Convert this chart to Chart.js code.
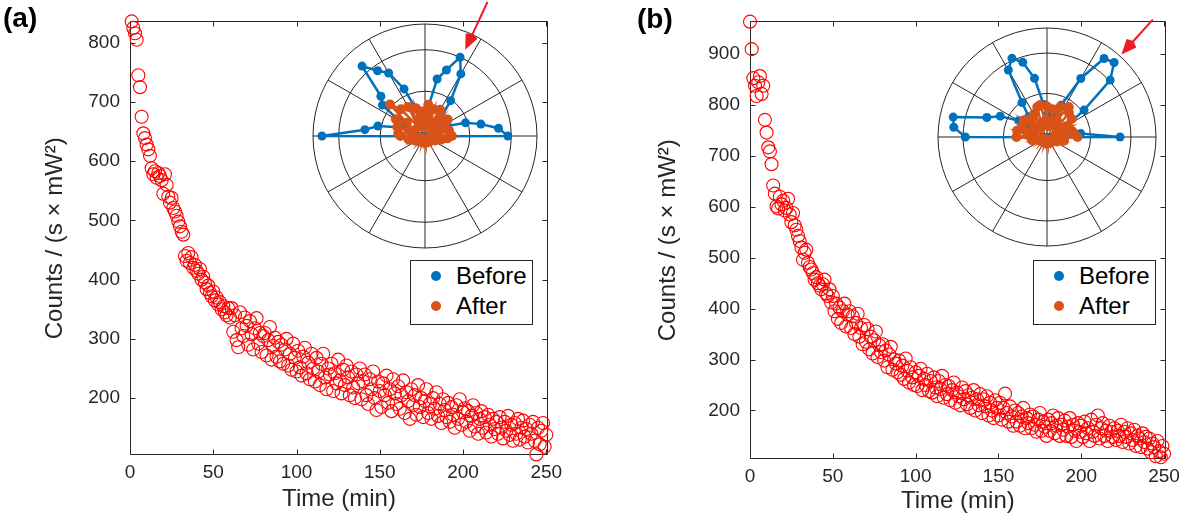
<!DOCTYPE html>
<html>
<head>
<meta charset="utf-8">
<script src="https://cdn.jsdelivr.net/npm/chart.js@4.4.1/dist/chart.umd.min.js"></script>
<style>
  body { margin: 0; background: #fff; width: 1186px; height: 521px; position: relative; overflow: hidden;
         font-family: "Liberation Sans", Arial, sans-serif; }
  canvas { position: absolute; }
  .tag { position: absolute; font-weight: bold; font-size: 28px; line-height: 1; color: #000; }
  .legend { position: absolute; width: 123px; height: 65px; box-sizing: border-box;
            border: 1px solid #262626; background: #fff; z-index: 5; }
  .legend .row { position: absolute; left: 0; height: 30px; line-height: 30px; font-size: 24px; color: #000; }
  .legend .row span { position: absolute; left: 20px; top: 10px; width: 10px; height: 10px; border-radius: 50%; }
  .legend .row b { position: absolute; left: 45px; font-weight: normal; white-space: nowrap; }
</style>
</head>
<body>
<canvas id="decayA" width="590" height="521" style="left:0;top:0"></canvas>
<canvas id="decayB" width="566" height="521" style="left:620px;top:0"></canvas>
<canvas id="polarA" width="300" height="300" style="left:275px;top:-14px"></canvas>
<canvas id="polarB" width="300" height="300" style="left:897px;top:-13px"></canvas>

<div class="tag" style="left:3px;top:4px">(a)</div>
<div class="tag" style="left:637px;top:5px">(b)</div>

<div class="legend" style="left:410px;top:260px">
  <div class="row" style="top:0"><span style="background:#0072BD"></span><b>Before</b></div>
  <div class="row" style="top:30px"><span style="background:#D95319"></span><b>After</b></div>
</div>
<div class="legend" style="left:1033px;top:260px">
  <div class="row" style="top:0"><span style="background:#0072BD"></span><b>Before</b></div>
  <div class="row" style="top:30px"><span style="background:#D95319"></span><b>After</b></div>
</div>

<script>
// counts per minute, panel (a) starts at 1 min, panel (b) at 0 min
const startA = 1;
const countsA = [
  836, 825, 816, 805, 745, 725, 675, 647, 639, 628,
  620, 609, 588, 578, 583, 572, 580, 575, 568, 545,
  578, 560, 540, 530, 538, 521, 515, 508, 498, 490,
  481, 476, 440, 432, 445, 428, 438, 420, 425, 415,
  410, 418, 400, 405, 395, 384, 390, 378, 372, 380,
  365, 370, 358, 362, 350, 355, 345, 340, 352, 336,
  352, 312, 340, 298, 286, 345, 318, 305, 336, 322,
  290, 330, 308, 282, 318, 335, 292, 310, 278, 305,
  310, 272, 298, 320, 265, 288, 302, 270, 295, 262,
  290, 258, 282, 300, 255, 275, 248, 292, 268, 245,
  280, 252, 238, 270, 285, 242, 260, 232, 275, 250,
  228, 268, 245, 222, 258, 275, 235, 215, 250, 240,
  258, 212, 242, 225, 265, 230, 208, 248, 222, 255,
  235, 205, 245, 218, 200, 240, 225, 250, 198, 228,
  240, 205, 190, 232, 215, 245, 200, 180, 228, 212,
  185, 225, 205, 238, 192, 215, 178, 232, 208, 190,
  220, 182, 205, 230, 175, 210, 195, 165, 215, 188,
  205, 172, 222, 185, 200, 168, 195, 215, 175, 190,
  165, 200, 182, 210, 170, 190, 158, 198, 180, 168,
  192, 160, 185, 172, 150, 188, 165, 198, 155, 176,
  183, 160, 178, 145, 170, 188, 152, 175, 140, 165,
  178, 150, 168, 142, 172, 155, 135, 165, 148, 160,
  140, 168, 150, 132, 160, 145, 170, 138, 155, 128,
  158, 140, 165, 130, 150, 162, 135, 148, 125, 155,
  140, 160, 128, 105, 150, 122, 145, 158, 118, 138,
];

const startB = 0;
const countsB = [
  964, 910, 853, 838, 818, 845, 857, 822, 838, 771,
  746, 717, 709, 684, 642, 626, 601, 597, 620, 605,
  612, 593, 598, 616, 585, 570, 588, 564, 555, 543,
  533, 520, 496, 510, 516, 490, 482, 477, 470, 457,
  462, 450, 445, 438, 448, 457, 430, 425, 438, 412,
  425, 395, 410, 380, 402, 372, 395, 410, 365, 388,
  395, 362, 385, 350, 372, 390, 345, 362, 330, 368,
  335, 360, 320, 345, 312, 338, 355, 305, 328, 315,
  330, 298, 318, 285, 310, 325, 280, 300, 292, 275,
  298, 270, 288, 262, 302, 278, 255, 285, 265, 250,
  275, 248, 268, 282, 240, 262, 250, 272, 238, 258,
  235, 265, 245, 228, 258, 242, 268, 225, 250, 232,
  248, 220, 240, 255, 215, 235, 228, 210, 245, 222,
  238, 212, 230, 205, 225, 240, 200, 222, 210, 232,
  195, 222, 208, 228, 190, 215, 200, 185, 220, 205,
  190, 215, 182, 205, 233, 195, 178, 208, 188, 170,
  200, 178, 195, 170, 188, 205, 165, 185, 175, 192,
  165, 188, 172, 158, 182, 195, 160, 178, 168, 150,
  182, 160, 175, 190, 155, 170, 185, 150, 172, 162,
  180, 150, 168, 185, 148, 172, 160, 140, 175, 158,
  170, 148, 178, 155, 165, 140, 182, 158, 150, 172,
  190, 145, 165, 175, 150, 160, 140, 170, 158, 148,
  165, 142, 160, 150, 172, 138, 158, 148, 165, 135,
  155, 142, 162, 130, 150, 145, 128, 155, 138, 148,
  125, 145, 118, 135, 128, 110, 140, 120, 108, 130, 115,
];

const timeTicks = [0, 50, 100, 150, 200, 250];
const countTicksA = [200, 300, 400, 500, 600, 700, 800];
const countTicksB = [200, 300, 400, 500, 600, 700, 800, 900];

// polar insets: normalised intensity vs angle (deg, counter-clockwise from east)
const polarAngles = [
  0, 6, 12, 18, 24, 30, 36, 42, 48, 54, 60, 66, 72, 78, 84, 90, 96, 102, 108, 114,
  120, 126, 132, 138, 144, 150, 156, 162, 168, 174, 180, 186, 192, 198, 204, 210, 216, 222, 228, 234,
  240, 246, 252, 258, 264, 270, 276, 282, 288, 294, 300, 306, 312, 318, 324, 330, 336, 342, 348, 354,
];
const ringValues = [0, 0.4, 0.77, 1];

const beforeA = [
  0.74, 0.66, 0.51, 0.38, 0.22, 0.15, 0.12, 0.14, 0.20, 0.39,
  0.64, 0.77, 0.62, 0.52, 0.25, 0.15, 0.10, 0.14, 0.25, 0.46,
  0.65, 0.72, 0.84, 0.53, 0.47, 0.25, 0.18, 0.25, 0.43, 0.54,
  0.92, 0.03, 0.02, 0.02, 0.02, 0.02, 0.02, 0.02, 0.02, 0.02,
  0.02, 0.02, 0.02, 0.02, 0.02, 0.02, 0.02, 0.02, 0.02, 0.02,
  0.02, 0.02, 0.02, 0.02, 0.02, 0.02, 0.02, 0.02, 0.02, 0.03,
];
const afterA = [
  0.24, 0.10, 0.22, 0.06, 0.20, 0.12, 0.25, 0.08, 0.22, 0.14,
  0.27, 0.10, 0.25, 0.16, 0.28, 0.08, 0.22, 0.12, 0.26, 0.15,
  0.30, 0.10, 0.32, 0.42, 0.20, 0.30, 0.12, 0.26, 0.10, 0.24,
  0.22, 0.08, 0.15, 0.06, 0.10, 0.04, 0.08, 0.03, 0.06, 0.03,
  0.05, 0.03, 0.06, 0.03, 0.05, 0.03, 0.06, 0.03, 0.05, 0.03,
  0.06, 0.03, 0.05, 0.04, 0.07, 0.05, 0.10, 0.06, 0.15, 0.20,
];
const beforeB = [
  0.67, 0.31, 0.20, 0.15, 0.14, 0.20, 0.42, 0.78, 0.92, 0.89,
  0.62, 0.32, 0.20, 0.15, 0.14, 0.20, 0.30, 0.55, 0.72, 0.79,
  0.71, 0.39, 0.25, 0.20, 0.22, 0.30, 0.47, 0.58, 0.88, 0.86,
  0.75, 0.03, 0.02, 0.02, 0.02, 0.02, 0.02, 0.02, 0.02, 0.02,
  0.02, 0.02, 0.02, 0.02, 0.02, 0.02, 0.02, 0.02, 0.02, 0.02,
  0.02, 0.02, 0.02, 0.02, 0.02, 0.02, 0.02, 0.02, 0.02, 0.03,
];
const afterB = [
  0.28, 0.12, 0.24, 0.08, 0.22, 0.14, 0.28, 0.12, 0.30, 0.34,
  0.18, 0.30, 0.12, 0.26, 0.10, 0.28, 0.15, 0.30, 0.29, 0.12,
  0.24, 0.10, 0.22, 0.14, 0.26, 0.12, 0.25, 0.15, 0.28, 0.18,
  0.28, 0.10, 0.14, 0.05, 0.08, 0.03, 0.06, 0.03, 0.06, 0.03,
  0.05, 0.03, 0.06, 0.03, 0.05, 0.03, 0.06, 0.03, 0.05, 0.03,
  0.06, 0.03, 0.05, 0.04, 0.06, 0.05, 0.10, 0.08, 0.16, 0.12,
];

const axisColor = '#262626';
const fontFamily = '"Liberation Sans", Arial, sans-serif';
Chart.defaults.font.family = fontFamily;

// matlab style box: full frame with inward ticks on all four sides
const frameBox = {
    id: 'frameBox',
    beforeDatasetsDraw(chart) {
        const { ctx, chartArea: a, scales: { x, y } } = chart;
        const len = 5;
        const L = Math.round(a.left) + .5, R = Math.round(a.right) - .5;
        const T = Math.round(a.top) + .5, B = Math.round(a.bottom) - .5;
        ctx.save();
        ctx.strokeStyle = axisColor;
        ctx.lineWidth = 1;
        ctx.beginPath();
        ctx.rect(L, T, R - L, B - T);
        x.ticks.forEach((t) => {
            const px = Math.round(x.getPixelForValue(t.value)) + .5;
            ctx.moveTo(px, B); ctx.lineTo(px, B - len);
            ctx.moveTo(px, T); ctx.lineTo(px, T + len);
        });
        y.ticks.forEach((t) => {
            const py = Math.round(y.getPixelForValue(t.value)) + .5;
            ctx.moveTo(L, py); ctx.lineTo(L + len, py);
            ctx.moveTo(R, py); ctx.lineTo(R - len, py);
        });
        ctx.stroke();
        ctx.restore();
    },
};

const radialArrow = {
    id: 'radialArrow',
    afterDraw(chart, _args, opts) {
        if (!opts || opts.angle == null) return;
        const { ctx } = chart;
        const r = chart.scales.r;
        const a = opts.angle * Math.PI / 180;
        const ux = Math.cos(a), uy = -Math.sin(a);
        const at = (f) => ({ x: r.xCenter + ux * f * r.drawingArea, y: r.yCenter + uy * f * r.drawingArea });
        const tail = at(opts.from), tip = at(opts.to);
        const head = 15, half = 6.5;
        const base = { x: tip.x + ux * head, y: tip.y + uy * head };
        ctx.save();
        ctx.strokeStyle = opts.color;
        ctx.fillStyle = opts.color;
        ctx.lineWidth = 2;
        ctx.beginPath();
        ctx.moveTo(tail.x, tail.y);
        ctx.lineTo(base.x, base.y);
        ctx.stroke();
        ctx.beginPath();
        ctx.moveTo(tip.x, tip.y);
        ctx.lineTo(base.x - uy * half, base.y + ux * half);
        ctx.lineTo(base.x + ux * 3, base.y + uy * 3);
        ctx.lineTo(base.x + uy * half, base.y - ux * half);
        ctx.closePath();
        ctx.fill();
        ctx.restore();
    },
};

function drawDecay(id, start, counts, yMin, yMax, yTicks, box) {
    const tickFont = { size: 19 };
    new Chart(document.getElementById(id), {
        type: 'scatter',
        data: {
            datasets: [{
                data: counts.map((c, i) => ({ x: start + i, y: c })),
                pointStyle: 'circle',
                pointRadius: 6.5,
                borderWidth: 1.1,
                borderColor: '#ff0000',
                backgroundColor: 'rgba(0,0,0,0)',
                clip: false,
            }],
        },
        plugins: [frameBox],
        options: {
            responsive: false,
            animation: false,
            events: [],
            layout: { padding: box.pad },
            plugins: { legend: { display: false }, tooltip: { enabled: false } },
            scales: {
                x: {
                    type: 'linear',
                    min: 0,
                    max: 251,
                    afterBuildTicks: (s) => { s.ticks = timeTicks.map((v) => ({ value: v })); },
                    afterFit: (s) => { s.height = box.xHeight; },
                    grid: { display: false, drawTicks: false },
                    border: { display: false },
                    ticks: { color: axisColor, font: tickFont, padding: 6, maxRotation: 0, autoSkip: false },
                    title: { display: true, text: 'Time (min)', color: axisColor, font: { size: 24 }, padding: 0 },
                },
                y: {
                    min: yMin,
                    max: yMax,
                    afterBuildTicks: (s) => { s.ticks = yTicks.map((v) => ({ value: v })); },
                    afterFit: (s) => { s.width = box.yWidth; },
                    grid: { display: false, drawTicks: false },
                    border: { display: false },
                    ticks: { color: axisColor, font: tickFont, padding: 10, autoSkip: false },
                    title: { display: true, text: 'Counts / (s × mW²)', color: axisColor, font: { size: 24 }, padding: 0 },
                },
            },
        },
    });
}

// radar runs clockwise from startAngle; reorder so the angles run counter-clockwise from east
const toRadar = (vals) => vals.map((_, i) => vals[(vals.length - i) % vals.length]);

function drawPolar(id, before, after, pad, arrow) {
    new Chart(document.getElementById(id), {
        type: 'radar',
        data: {
            labels: toRadar(polarAngles).map(String),
            datasets: [
                {
                    label: 'After',
                    data: toRadar(after),
                    borderColor: '#D95319',
                    backgroundColor: '#D95319',
                    pointBackgroundColor: '#D95319',
                    pointRadius: 5,
                    order: 0,
                },
                {
                    label: 'Before',
                    data: toRadar(before),
                    borderColor: '#0072BD',
                    backgroundColor: '#0072BD',
                    pointBackgroundColor: '#0072BD',
                    order: 1,
                },
            ],
        },
        plugins: [radialArrow],
        options: {
            responsive: false,
            animation: false,
            events: [],
            layout: { padding: pad },
            elements: {
                line: { tension: 0, borderWidth: 2.5, fill: false },
                point: { radius: 4.5, borderWidth: 0, hoverRadius: 4.5 },
            },
            plugins: {
                legend: { display: false },
                tooltip: { enabled: false },
                radialArrow: arrow,
            },
            scales: {
                r: {
                    min: 0,
                    max: 1,
                    startAngle: 90,
                    afterBuildTicks: (s) => { s.ticks = ringValues.map((v) => ({ value: v })); },
                    ticks: { display: false },
                    pointLabels: { display: false },
                    grid: { circular: true, color: axisColor, lineWidth: 1 },
                    angleLines: {
                        color: axisColor,
                        lineWidth: (c) => (c.index % 5 === 0 ? 1 : 0),
                    },
                },
            },
        },
    });
}

drawDecay('decayA', startA, countsA, 104, 836, countTicksA,
    { pad: { left: 41, top: 13, right: 42, bottom: 7 }, yWidth: 89, xHeight: 59 });
drawDecay('decayB', startB, countsB, 104.6, 964.5, countTicksB,
    { pad: { left: 34, top: 15, right: 18, bottom: 5 }, yWidth: 96, xHeight: 57 });

drawPolar('polarA', beforeA, afterA, 38, { angle: 65, from: 1.32, to: 0.85, color: '#ec1c24' });
drawPolar('polarB', beforeB, afterB, 41, { angle: 48, from: 1.45, to: 1.02, color: '#ec1c24' });
</script>
</body>
</html>
